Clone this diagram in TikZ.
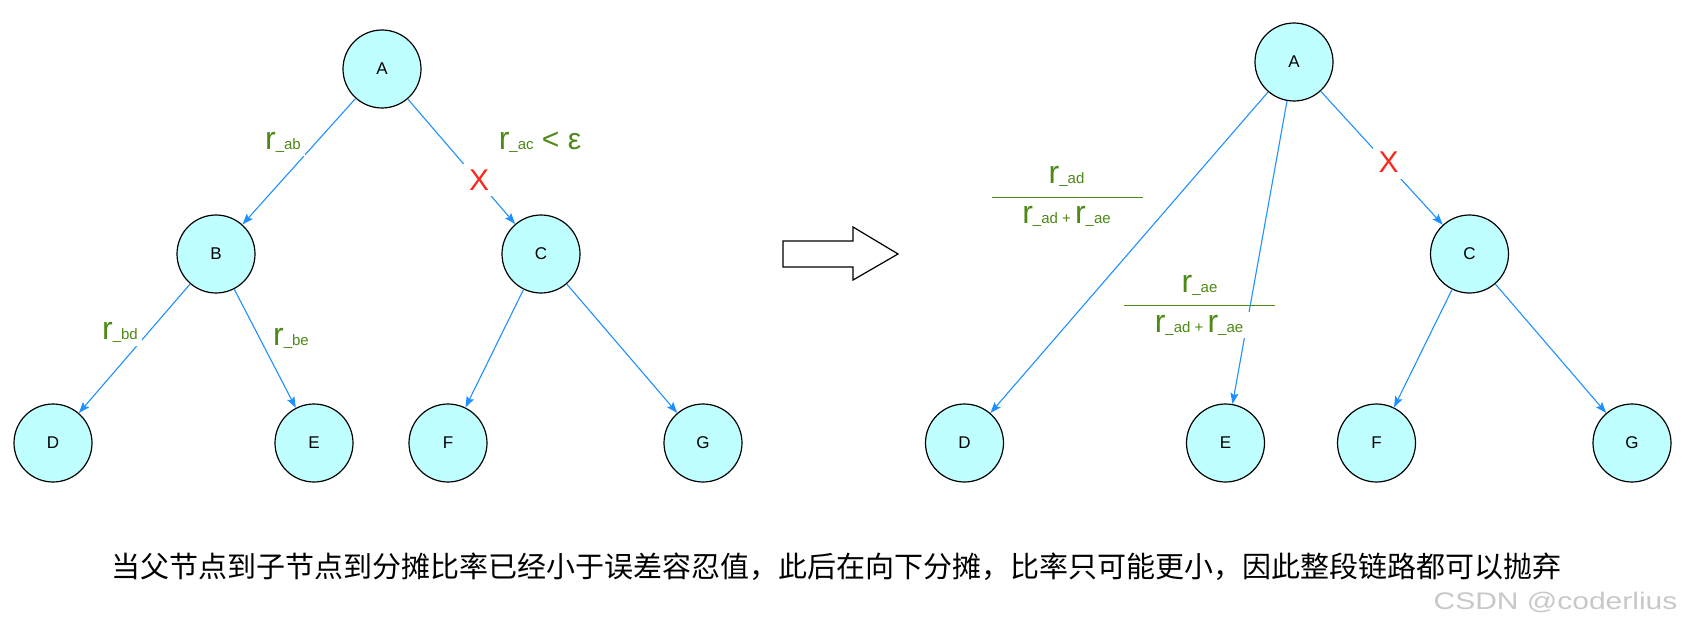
\documentclass[tikz,border=0pt]{standalone}
\usepackage{fontspec}
\setmainfont{Liberation Sans}
\newfontfamily\cjkfont{Noto Sans CJK SC}
\usetikzlibrary{arrows.meta}
\definecolor{nodefill}{RGB}{192,255,255}
\definecolor{edgeblue}{RGB}{30,144,255}
\definecolor{labelgreen}{RGB}{77,137,23}
\definecolor{crossred}{RGB}{250,40,30}
\definecolor{markgray}{RGB}{200,200,200}
\newcommand{\rsub}[1]{{\fontsize{32}{32}\selectfont r}{\fontsize{15}{15}\selectfont\_#1}}
\newcommand{\rplus}{{\fontsize{15}{15}\selectfont\ +\ }}
\begin{document}
\begin{tikzpicture}[x=1pt,y=-1pt,
    vertex/.style={circle,draw,line width=1.2pt,fill=nodefill,minimum size=78pt,inner sep=0pt,font=\fontsize{17}{17}\selectfont},
    edge/.style={draw=edgeblue,line width=1.1pt,-{Stealth[length=11pt,width=8pt,inset=2pt]}},
    rlabel/.style={fill=white,inner sep=4pt,text=labelgreen,anchor=base},
    cross/.style={fill=white,inner sep=6pt,text=crossred,font=\fontsize{30}{30}\selectfont},
    fracbar/.style={draw=labelgreen,line width=1pt}
]
\useasboundingbox (0,0) rectangle (1686,634);

% before
\node[vertex] (a) at (382,69) {A};
\node[vertex] (b) at (216,254) {B};
\node[vertex] (c) at (541,254) {C};
\node[vertex] (d) at (53,443) {D};
\node[vertex] (e) at (314,443) {E};
\node[vertex] (f) at (448,443) {F};
\node[vertex] (g) at (703,443) {G};

\draw[edge] (a) -- (b);
\draw[edge] (a) -- (c);
\draw[edge] (b) -- (d);
\draw[edge] (b) -- (e);
\draw[edge] (c) -- (f);
\draw[edge] (c) -- (g);

\node[rlabel] (lab) at (283,149) {\rsub{ab}};
\node[rlabel] (lac) at (540,149) {\rsub{ac}{\fontsize{30}{30}\selectfont\ < ε}};
\node[rlabel] (lbd) at (120,339) {\rsub{bd}};
\node[rlabel] (lbe) at (291,345) {\rsub{be}};
\node[cross] (xac) at (479,180) {X};

% arrow
\draw[line width=1.2pt,fill=white] (783,241) -- (853,241) -- (853,227) -- (898,254)
    -- (853,280) -- (853,267) -- (783,267) -- cycle;

% after
\node[vertex] (a2) at (1294,62) {A};
\node[vertex] (c2) at (1469.5,254) {C};
\node[vertex] (d2) at (964.5,443) {D};
\node[vertex] (e2) at (1225.5,443) {E};
\node[vertex] (f2) at (1376.5,443) {F};
\node[vertex] (g2) at (1632,443) {G};

\draw[edge] (a2) -- (d2);
\draw[edge] (a2) -- (e2);
\draw[edge] (a2) -- (c2);
\draw[edge] (c2) -- (f2);
\draw[edge] (c2) -- (g2);

\node[cross] (xac2) at (1388.5,162.5) {X};

\node[rlabel] (fad) at (1066.5,183) {\rsub{ad}};
\draw[fracbar] (992,197.3) -- (1143,197.3);
\node[rlabel] (fsum1) at (1066.5,223) {\rsub{ad}\rplus\rsub{ae}};
\node[rlabel,inner sep=2pt] (fae) at (1199.5,292) {\rsub{ae}};
\draw[fracbar] (1124,305.7) -- (1275,305.7);
\node[rlabel,inner xsep=8pt,inner ysep=3pt] (fsum2) at (1199,332) {\rsub{ad}\rplus\rsub{ae}};

\node[font=\cjkfont\fontsize{29}{29}\selectfont] (note) at (836,567)
    {当父节点到子节点到分摊比率已经小于误差容忍值，此后在向下分摊，比率只可能更小，因此整段链路都可以抛弃};
\node[text=markgray,font=\fontsize{24}{24}\selectfont,xscale=1.25] (mark) at (1555.5,602) {CSDN @coderlius};
\end{tikzpicture}
\end{document}
